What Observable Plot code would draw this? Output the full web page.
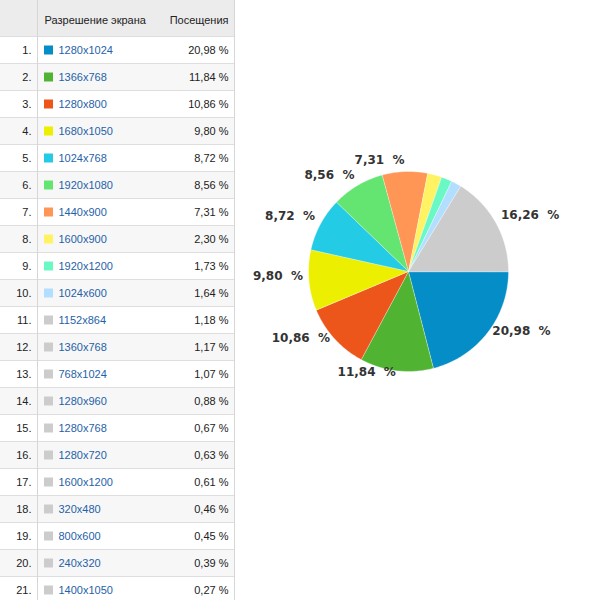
<!DOCTYPE html>
<html><head><meta charset="utf-8">
<script src="https://cdn.jsdelivr.net/npm/d3@7"></script>
<script src="https://cdn.jsdelivr.net/npm/@observablehq/plot@0.6"></script>
<style>
body{margin:0;background:#fff;}
#wrap{display:flex;width:600px;height:600px;overflow:hidden;background:#fff;}
#wrap svg{display:block;}
</style></head><body><div id="wrap"></div>
<script>
const resolutions = ["1280x1024","1366x768","1280x800","1680x1050","1024x768","1920x1080","1440x900","1600x900","1920x1200","1024x600","1152x864","1360x768","768x1024","1280x960","1280x768","1280x720","1600x1200","320x480","800x600","240x320","1400x1050"];
const visits = [20.98,11.84,10.86,9.80,8.72,8.56,7.31,2.30,1.73,1.64,1.18,1.17,1.07,0.88,0.67,0.63,0.61,0.46,0.45,0.39,0.27];
const otherShare = 16.26;
const otherLabel = "Другие";
const columnHeaders = ["Разрешение экрана", "Посещения"];
const sliceColors = ["#058dc7","#50b432","#ed561b","#edef00","#24cbe5","#64e572","#ff9655","#fff263","#6af9c4","#b2deff"];
const otherColor = "#cccccc";

const fmt = v => v.toFixed(2).replace(".", ",");
const nTop = sliceColors.length;
const rows = resolutions.map((name, i) => ({rank: i + 1, name, value: visits[i], key: i < nTop ? name : otherLabel}));
const colorDomain = [...resolutions.slice(0, nTop), otherLabel];
const colorRange = [...sliceColors, otherColor];

const H = 36 / 27; // header height in row units
const table = Plot.plot({
  width: 240, height: 600, margin: 0,
  x: {type: "identity"},
  y: {domain: [-H, (600 - 36) / 27], range: [0, 600], axis: null},
  color: {domain: colorDomain, range: colorRange},
  style: {fontFamily: "'Liberation Sans', Arial, sans-serif", fontSize: "11px", background: "#fff"},
  marks: [
    Plot.rect([0], {x1: 0, x2: 235, y1: -H, y2: 0, fill: "#ececec"}),
    Plot.rect(rows, {x1: 0, x2: 234, y1: d => d.rank - 1, y2: d => d.rank, fill: d => d.rank % 2 === 0 ? "#f7f7f7" : "#ffffff"}),
    Plot.ruleY([0, ...rows.map(d => d.rank)], {x1: 0, x2: 234, stroke: "#dedede"}),
    Plot.ruleX([37, 234], {y1: -H, y2: 22, stroke: "#d6d6d6"}),
    Plot.text([columnHeaders[0]], {x: 44, y: -H / 2, text: d => d, textAnchor: "start", fill: "#222", dy: 2}),
    Plot.text([columnHeaders[1]], {x: 228, y: -H / 2, text: d => d, textAnchor: "end", fill: "#222", dy: 2}),
    Plot.text(rows, {x: 31, y: d => d.rank - 0.5, text: d => d.rank + ".", textAnchor: "end", fill: "#222"}),
    Plot.dot(rows, {x: 48, y: d => d.rank - 0.5, symbol: "square", r: 9 / Math.sqrt(Math.PI), fill: "key", stroke: null}),
    Plot.text(rows, {x: 58, y: d => d.rank - 0.5, text: "name", textAnchor: "start", fill: "#1f62a8"}),
    Plot.text(rows, {x: 228, y: d => d.rank - 0.5, text: d => fmt(d.value) + " %", textAnchor: "end", fill: "#222"})
  ]
});

const slices = [...visits.slice(0, nTop).map((v, i) => ({key: resolutions[i], value: v})), {key: otherLabel, value: otherShare}];
const arcs = d3.pie().sort(null).value(d => d.value)(slices);
const piePoints = arcs.flatMap(a => {
  const n = Math.max(2, Math.ceil((a.endAngle - a.startAngle) / (Math.PI / 180)));
  const pts = [{key: a.data.key, x: 0, y: 0}];
  for (let k = 0; k <= n; k++) {
    const t = a.startAngle + (a.endAngle - a.startAngle) * k / n;
    pts.push({key: a.data.key, x: Math.cos(t), y: Math.sin(t)});
  }
  return pts;
});
const labels = arcs.filter(a => a.data.value > 5).map(a => {
  const m = (a.startAngle + a.endAngle) / 2;
  return {x: 1.06 * Math.cos(m), y: 1.06 * Math.sin(m), right: Math.cos(m) >= 0, text: fmt(a.data.value) + "\u00a0\u00a0%"};
});
const labelStyle = {fontFamily: "DejaVu Sans", fontWeight: "bold", fontSize: 12, fill: "#333", dy: -5};

const pie = Plot.plot({
  width: 360, height: 600, margin: 0,
  x: {domain: [-1, 1], range: [68, 268], axis: null},
  y: {domain: [-1, 1], range: [171, 371], axis: null},
  color: {domain: colorDomain, range: colorRange},
  style: {background: "#fff"},
  marks: [
    Plot.line(piePoints, {x: "x", y: "y", z: "key", fill: "key", stroke: "#fff", strokeWidth: 0.35, curve: "linear-closed"}),
    Plot.text(labels.filter(d => d.right), {x: "x", y: "y", text: "text", textAnchor: "start", ...labelStyle}),
    Plot.text(labels.filter(d => !d.right), {x: "x", y: "y", text: "text", textAnchor: "end", ...labelStyle})
  ]
});

document.getElementById("wrap").append(table, pie);
</script></body></html>
